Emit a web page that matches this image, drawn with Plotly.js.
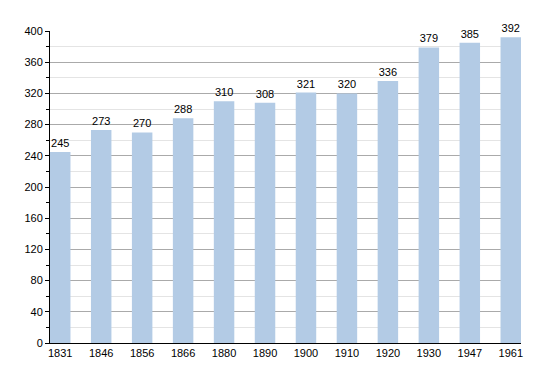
<!DOCTYPE html>
<html>
<head>
<meta charset="utf-8">
<script src="https://cdn.plot.ly/plotly-3.0.1.min.js"></script>
<style>html,body{margin:0;padding:0;background:#fff}#chart{width:550px;height:373px}</style>
</head>
<body>
<div id="chart"></div>
<script>
var years = ["1831","1846","1856","1866","1880","1890","1900","1910","1920","1930","1947","1961"];
var population = [245, 273, 270, 288, 310, 308, 321, 320, 336, 379, 385, 392];

var trace = {
  type: 'bar',
  x: years,
  y: population,
  width: 0.5,
  marker: {color: '#b3cbe5', line: {width: 0}},
  text: population.map(String),
  textposition: 'outside',
  textfont: {family: 'Liberation Sans, Arial, sans-serif', size: 11, color: '#000'},
  cliponaxis: false,
  hoverinfo: 'x+y'
};

var layout = {
  width: 550, height: 373,
  margin: {l: 50, r: 29, t: 31, b: 30, pad: 0},
  paper_bgcolor: '#fff', plot_bgcolor: '#fff',
  showlegend: false,
  font: {family: 'Liberation Sans, Arial, sans-serif', size: 11, color: '#000'},
  xaxis: {
    type: 'category',
    range: [-0.25, 11.25],
    showline: true, linecolor: '#000', linewidth: 1,
    showgrid: false, ticks: '', zeroline: false,
    tickfont: {size: 11, color: '#000'},
    fixedrange: true
  },
  yaxis: {
    range: [0, 400],
    dtick: 40, tick0: 0,
    showline: true, linecolor: '#000', linewidth: 1,
    showgrid: true, gridcolor: '#aaaaaa', gridwidth: 1,
    ticks: 'outside', ticklen: 4, tickcolor: '#000',
    zeroline: false,
    tickfont: {size: 11, color: '#000'},
    minor: {dtick: 20, showgrid: true, gridcolor: '#e4e4e4', ticks: 'outside', ticklen: 3, tickcolor: '#000'},
    fixedrange: true
  },
  bargap: 0.5
};

Plotly.newPlot('chart', [trace], layout, {displayModeBar: false, staticPlot: true});
</script>
</body>
</html>
